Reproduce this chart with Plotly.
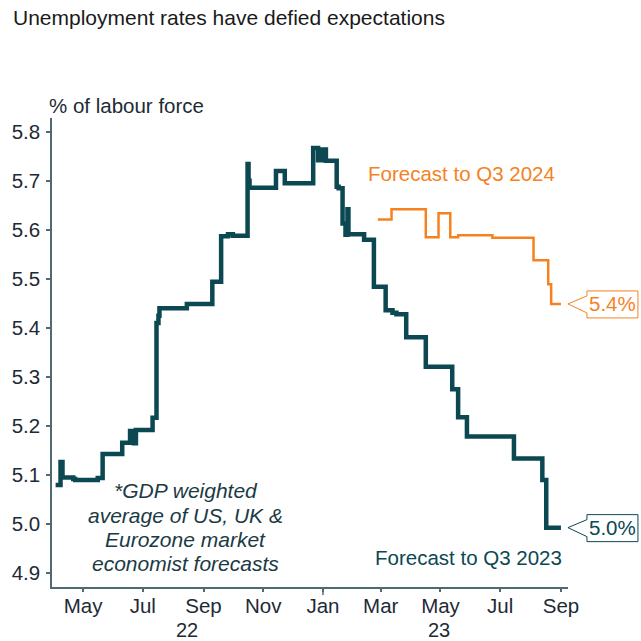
import plotly.graph_objects as go
import pandas as pd

# ---- data ----
q3_2023_dates = ["2022-04-03", "2022-04-08", "2022-04-10", "2022-04-21", "2022-04-23", "2022-05-16",
                 "2022-05-21", "2022-06-10", "2022-06-18", "2022-06-22", "2022-06-24", "2022-07-11",
                 "2022-07-15", "2022-07-17", "2022-07-18", "2022-08-15", "2022-09-10", "2022-09-19",
                 "2022-09-26", "2022-10-01", "2022-10-16", "2022-10-17", "2022-10-18", "2022-11-14",
                 "2022-11-23", "2022-12-22", "2022-12-27", "2022-12-31", "2023-01-04", "2023-01-15",
                 "2023-01-17", "2023-01-21", "2023-01-24", "2023-01-26", "2023-01-27", "2023-02-12",
                 "2023-02-22", "2023-03-06", "2023-03-13", "2023-03-17", "2023-03-27", "2023-04-16",
                 "2023-05-13", "2023-05-19", "2023-05-28", "2023-07-15", "2023-08-13", "2023-08-17",
                 "2023-09-01"]
q3_2023_values = [5.080, 5.127, 5.095, 5.092, 5.090, 5.094,
                  5.143, 5.166, 5.190, 5.165, 5.192, 5.217,
                  5.410, 5.425, 5.440, 5.449, 5.494, 5.587,
                  5.591, 5.588, 5.734, 5.700, 5.686, 5.720,
                  5.695, 5.767, 5.742, 5.764, 5.741, 5.688,
                  5.685, 5.613, 5.590, 5.642, 5.591, 5.580,
                  5.484, 5.436, 5.431, 5.428, 5.381, 5.321,
                  5.275, 5.218, 5.179, 5.134, 5.090, 4.993,
                  4.993]

q3_2024_dates = ["2023-02-26", "2023-03-12", "2023-04-16", "2023-04-29", "2023-05-11", "2023-05-19",
                 "2023-06-23", "2023-08-04", "2023-08-19", "2023-08-22", "2023-09-01"]
q3_2024_values = [5.621, 5.642, 5.585, 5.634, 5.585, 5.589,
                  5.584, 5.538, 5.489, 5.449, 5.449]

x_tick_vals = ["2022-05-01", "2022-07-01", "2022-09-01", "2022-11-01", "2023-01-01",
               "2023-03-01", "2023-05-01", "2023-07-01", "2023-09-01"]
x_tick_text = ["May", "Jul", "Sep", "Nov", "Jan", "Mar", "May", "Jul", "Sep"]
y_tick_vals = [4.9, 5.0, 5.1, 5.2, 5.3, 5.4, 5.5, 5.6, 5.7, 5.8]
year_labels = ["22", "23"]
year_label_dates = ["2022-08-15", "2023-04-29"]
year_boundary = "2023-01-01"

X_RANGE = ["2022-03-30 07:00", "2023-09-08 05:00"]
Y_RANGE = [4.872, 5.828]

TEAL = "#0b4852"
ORANGE = "#f5821f"
AXIS = "#4f6a73"
TXT = "#1d2b36"
FONT = "Liberation Sans"

_x0, _x1 = pd.Timestamp(X_RANGE[0]), pd.Timestamp(X_RANGE[1])


def xpaper(d):
    return (pd.Timestamp(d) - _x0) / (_x1 - _x0)


def ypaper(v):
    return (v - Y_RANGE[0]) / (Y_RANGE[1] - Y_RANGE[0])


fig = go.Figure()
fig.add_trace(go.Scatter(x=q3_2024_dates, y=q3_2024_values, mode="lines",
                         line=dict(color=ORANGE, width=2.5, shape="hv"), showlegend=False))
fig.add_trace(go.Scatter(x=q3_2023_dates, y=q3_2023_values, mode="lines",
                         line=dict(color=TEAL, width=4.5, shape="hv"), showlegend=False))

annotations = []
shapes = []

# callouts anchored to last points
for dates, vals, col in [(q3_2024_dates, q3_2024_values, ORANGE), (q3_2023_dates, q3_2023_values, TEAL)]:
    shapes.append(dict(type="path", xref="paper", yref="paper", xsizemode="pixel", ysizemode="pixel",
                       xanchor=xpaper(dates[-1]), yanchor=ypaper(vals[-1]),
                       path="M 7,0 L 26,8 L 26,13 L 77,13 L 77,-14 L 26,-14 L 26,-9 Z",
                       line=dict(color=col, width=1), fillcolor="white", layer="above"))
    annotations.append(dict(x=dates[-1], y=vals[-1], xref="x", yref="y", text=f"{vals[-1]:.1f}%",
                            showarrow=False, xanchor="center", yanchor="middle", xshift=52, yshift=0,
                            font=dict(family=FONT, size=20.5, color=col)))

annotations += [
    dict(x="2023-02-17", y=5.714, xref="x", yref="y", text="Forecast to Q3 2024", showarrow=False,
         xanchor="left", yanchor="middle", xshift=-3, font=dict(family=FONT, size=20.5, color=ORANGE)),
    dict(x="2023-02-25", y=4.933, xref="x", yref="y", text="Forecast to Q3 2023", showarrow=False,
         xanchor="left", yanchor="middle", xshift=-4, font=dict(family=FONT, size=20.5, color=TEAL)),
    dict(x=0, y=1, xref="paper", yref="paper", text="% of labour force", showarrow=False,
         xanchor="left", yanchor="middle", yshift=13, xshift=-5,
         font=dict(family=FONT, size=20.5, color=TXT)),
]
foot_lines = ["*GDP weighted", "average of US, UK &", "Eurozone market", "economist forecasts"]
foot_vals = [5.069, 5.018, 4.969, 4.920]
for t, v in zip(foot_lines, foot_vals):
    annotations.append(dict(x="2022-08-14", y=v, xref="x", yref="y", text=f"<i>{t}</i>", showarrow=False,
                            xanchor="center", yanchor="middle",
                            font=dict(family=FONT, size=21, color="#1b3a44")))
for t, d in zip(year_labels, year_label_dates):
    annotations.append(dict(x=d, y=0, xref="x", yref="paper", text=t, showarrow=False,
                            xanchor="center", yanchor="middle", yshift=-43,
                            font=dict(family=FONT, size=20, color=TXT)))

# longer tick marking the year boundary
shapes.append(dict(type="line", xref="paper", yref="paper", xsizemode="pixel", ysizemode="pixel",
                   xanchor=xpaper(year_boundary), yanchor=0, x0=0, x1=0, y0=0, y1=-8,
                   line=dict(color=AXIS, width=1.5)))

fig.update_layout(
    width=641, height=641,
    margin=dict(l=44, r=73, t=118, b=54),
    paper_bgcolor="white", plot_bgcolor="white",
    title=dict(text="Unemployment rates have defied expectations", x=0.0203, y=0.972,
               xref="container", yref="container", xanchor="left", yanchor="middle",
               font=dict(family=FONT, size=21, color="#1a1a1a")),
    xaxis=dict(type="date", range=X_RANGE,
               tickvals=x_tick_vals, ticktext=x_tick_text, ticks="outside", ticklen=3,
               tickcolor=AXIS, tickwidth=1.5, showline=True, linecolor=AXIS, linewidth=1.5,
               ticklabelstandoff=-3,
               showgrid=False, zeroline=False, tickfont=dict(family=FONT, size=20.5, color=TXT)),
    yaxis=dict(range=Y_RANGE, tickvals=y_tick_vals, tickformat=".1f", ticks="outside",
               ticklen=4, tickcolor=AXIS, tickwidth=1.5, showline=True, linecolor=AXIS, linewidth=1.5,
               ticklabelstandoff=2,
               showgrid=False, zeroline=False, tickfont=dict(family=FONT, size=20.5, color=TXT)),
    annotations=annotations, shapes=shapes, showlegend=False,
)

fig.write_html("out.html")
